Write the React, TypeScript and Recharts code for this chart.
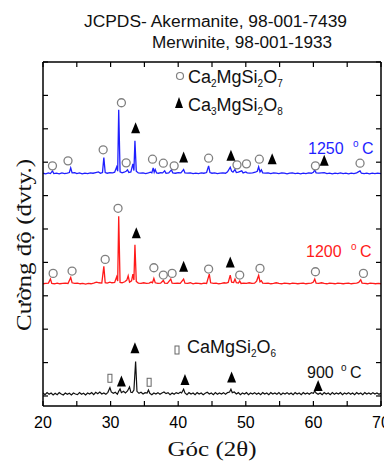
import React from "react"
import { ComposedChart, Line, Scatter, XAxis, YAxis } from "recharts"

// XRD patterns: [2θ (deg), intensity above the pattern's own baseline]
const pattern1250: [number, number][] = [
  [20.0, 2], [20.4, 0], [20.8, 3], [21.1, 1], [21.4, 9], [21.6, 1], [22.0, 2], [22.4, 0], [22.8, 3], [23.2, 1],
  [23.6, 2], [23.9, 4], [24.1, 18], [24.3, 3], [24.7, 4], [25.0, 1], [25.4, 3], [25.8, 0], [26.2, 2], [26.6, 1],
  [27.0, 3], [27.4, 2], [27.8, 4], [28.2, 6], [28.5, 2], [28.8, 4], [29.0, 49], [29.2, 4], [29.5, 2], [29.9, 4],
  [30.3, 3], [30.6, 5], [30.9, 21], [31.05, 8], [31.2, 192], [31.4, 6], [31.7, 3], [32.0, 5], [32.3, 8], [32.5, 12],
  [32.7, 4], [33.0, 6], [33.3, 30], [33.45, 10], [33.6, 99], [33.8, 8], [34.1, 3], [34.4, 2], [34.8, 3], [35.2, 1],
  [35.6, 3], [35.9, 5], [36.1, 3], [36.3, 18], [36.45, 5], [36.6, 13], [36.8, 3], [37.1, 2], [37.4, 4], [37.7, 3],
  [38.0, 9], [38.2, 2], [38.6, 3], [39.0, 12], [39.2, 3], [39.6, 2], [40.0, 4], [40.4, 3], [40.8, 13], [41.0, 3],
  [41.4, 2], [41.8, 3], [42.2, 1], [42.6, 2], [43.0, 1], [43.4, 3], [43.8, 2], [44.2, 4], [44.5, 24], [44.7, 4],
  [45.0, 2], [45.4, 3], [45.8, 1], [46.2, 2], [46.6, 3], [47.0, 2], [47.3, 6], [47.7, 20], [47.9, 8], [48.1, 5],
  [48.4, 13], [48.6, 4], [48.9, 5], [49.4, 9], [49.6, 3], [50.0, 6], [50.2, 3], [50.6, 2], [51.0, 3], [51.4, 5],
  [51.7, 8], [51.9, 21], [52.1, 6], [52.3, 12], [52.5, 3], [52.9, 2], [53.3, 3], [53.7, 1], [54.1, 3], [54.5, 2],
  [54.9, 1], [55.3, 3], [55.7, 2], [56.1, 0], [56.5, 2], [56.9, 3], [57.3, 1], [57.7, 2], [58.1, 0], [58.5, 2],
  [58.9, 1], [59.3, 3], [59.7, 2], [60.0, 5], [60.2, 12], [60.4, 3], [60.8, 2], [61.2, 3], [61.6, 4], [62.0, 1],
  [62.4, 2], [62.8, 0], [63.2, 2], [63.6, 1], [64.0, 3], [64.4, 1], [64.8, 2], [65.2, 0], [65.6, 2], [66.0, 1],
  [66.4, 3], [66.9, 9], [67.1, 2], [67.5, 1], [67.9, 2], [68.3, 0], [68.7, 2], [69.1, 1], [69.5, 2], [70.0, 1],
]

const pattern1200: [number, number][] = [
  [20.0, 1], [20.4, 2], [20.8, 3], [21.1, 15], [21.3, 2], [21.7, 1], [22.1, 3], [22.5, 1], [22.9, 2], [23.3, 3],
  [23.7, 2], [24.1, 20], [24.3, 4], [24.7, 2], [25.1, 3], [25.5, 1], [25.9, 2], [26.3, 0], [26.7, 2], [27.1, 1],
  [27.5, 3], [27.9, 6], [28.3, 4], [28.7, 3], [29.0, 53], [29.2, 4], [29.5, 3], [29.9, 6], [30.2, 4], [30.6, 5],
  [30.9, 22], [31.05, 9], [31.2, 203], [31.4, 5], [31.7, 4], [32.1, 7], [32.4, 12], [32.6, 25], [32.8, 6], [33.1, 10],
  [33.3, 30], [33.45, 12], [33.6, 118], [33.8, 8], [34.1, 3], [34.5, 2], [34.9, 4], [35.3, 2], [35.7, 3], [36.0, 6],
  [36.2, 4], [36.4, 17], [36.6, 4], [37.0, 2], [37.4, 3], [37.8, 11], [38.0, 3], [38.4, 2], [38.9, 15], [39.1, 3],
  [39.5, 2], [39.9, 3], [40.3, 2], [40.8, 15], [41.0, 3], [41.4, 2], [41.8, 4], [42.2, 1], [42.6, 3], [43.0, 2],
  [43.4, 1], [43.8, 3], [44.2, 2], [44.6, 30], [44.8, 4], [45.2, 2], [45.6, 3], [46.0, 1], [46.4, 2], [46.8, 4],
  [47.1, 3], [47.4, 5], [47.7, 27], [47.9, 6], [48.2, 5], [48.4, 15], [48.6, 4], [48.9, 3], [49.1, 9], [49.3, 2],
  [49.7, 3], [50.1, 2], [50.5, 4], [50.9, 2], [51.3, 3], [51.6, 9], [51.9, 26], [52.1, 7], [52.3, 10], [52.5, 3],
  [52.9, 2], [53.3, 3], [53.7, 1], [54.1, 2], [54.5, 4], [54.9, 2], [55.3, 1], [55.7, 3], [56.1, 2], [56.5, 1],
  [56.9, 3], [57.3, 2], [57.7, 1], [58.1, 2], [58.5, 3], [58.9, 1], [59.3, 2], [59.7, 3], [60.0, 6], [60.2, 15],
  [60.4, 3], [60.8, 2], [61.2, 4], [61.6, 2], [62.0, 1], [62.4, 3], [62.8, 2], [63.2, 1], [63.6, 3], [64.0, 2],
  [64.4, 1], [64.8, 2], [65.2, 3], [65.6, 1], [66.0, 2], [66.4, 3], [66.7, 5], [67.0, 13], [67.2, 3], [67.6, 2],
  [68.0, 1], [68.4, 3], [68.8, 2], [69.2, 1], [69.6, 2], [70.0, 1],
]

const pattern900: [number, number][] = [
  [20.0, 3], [20.3, -2], [20.6, 4], [20.9, -1], [21.2, 3], [21.5, -3], [21.8, 2], [22.1, -2], [22.4, 4], [22.7, 0],
  [23.0, -3], [23.3, 3], [23.6, -1], [23.9, 2], [24.2, -3], [24.5, 3], [24.8, 0], [25.1, -2], [25.4, 4], [25.7, -1],
  [26.0, 2], [26.3, -3], [26.6, 3], [26.9, 0], [27.2, 4], [27.5, -2], [27.8, 5], [28.1, 1], [28.4, 6], [28.7, 0],
  [29.0, 3], [29.3, -1], [29.6, 5], [29.9, 19], [30.1, 6], [30.4, 2], [30.7, 5], [31.0, -1], [31.2, 8], [31.4, 15],
  [31.6, 4], [31.9, 8], [32.2, 3], [32.5, 9], [32.8, 21], [33.0, 5], [33.2, 4], [33.45, 12], [33.7, 97], [33.9, 8],
  [34.2, 2], [34.5, 5], [34.8, 0], [35.1, 4], [35.4, 3], [35.6, 12], [35.8, 2], [36.1, -2], [36.4, 3], [36.7, 0],
  [37.0, 4], [37.3, -1], [37.6, 3], [37.9, 6], [38.2, 1], [38.5, 4], [38.8, -2], [39.1, 3], [39.4, -1], [39.7, 4],
  [40.0, 1], [40.3, 5], [40.5, 3], [40.8, 14], [41.0, 3], [41.3, -2], [41.6, 4], [41.9, 0], [42.2, 3], [42.5, -2],
  [42.8, 4], [43.1, 0], [43.4, 3], [43.7, -2], [44.0, 2], [44.3, 5], [44.6, 0], [44.9, 3], [45.2, -2], [45.5, 4],
  [45.8, -1], [46.1, 3], [46.4, 0], [46.7, 4], [47.0, -1], [47.3, 4], [47.6, 6], [47.8, 14], [48.0, 4], [48.3, 6],
  [48.6, 0], [48.9, 4], [49.2, -2], [49.5, 3], [49.8, 0], [50.1, 4], [50.4, -2], [50.7, 3], [51.0, 0], [51.3, 4],
  [51.6, -1], [51.9, 3], [52.2, -2], [52.5, 4], [52.8, 0], [53.1, 3], [53.4, -2], [53.7, 4], [54.0, 0], [54.3, 3],
  [54.6, -1], [54.9, 4], [55.2, -2], [55.5, 3], [55.8, 0], [56.1, 4], [56.4, -1], [56.7, 3], [57.0, -2], [57.3, 4],
  [57.6, 0], [57.9, 3], [58.2, -2], [58.5, 4], [58.8, 0], [59.1, 3], [59.4, -1], [59.7, 4], [60.0, 2], [60.2, 9],
  [60.4, 3], [60.7, -1], [61.0, 3], [61.3, -2], [61.6, 4], [61.9, 0], [62.2, 3], [62.5, -2], [62.8, 4], [63.1, -1],
  [63.4, 3], [63.7, 0], [64.0, 4], [64.3, -2], [64.6, 3], [64.9, 0], [65.2, 4], [65.5, -1], [65.8, 3], [66.1, -2],
  [66.4, 4], [66.7, 0], [67.0, 3], [67.3, -2], [67.6, 4], [67.9, 0], [68.2, 3], [68.5, -1], [68.8, 4], [69.1, 0],
  [69.4, 3], [69.7, -1], [70.0, 2],
]

// vertical stacking of the three patterns
const offset1250 = 665
const offset1200 = 335
const offset900 = 6

// phase markers: [2θ, height above baseline]
const akermanite1250: [number, number][] = [
  [21.4, 24], [23.7, 39], [28.9, 72], [31.6, 213], [32.3, 33], [36.2, 44], [37.8, 32],
  [39.4, 24], [44.5, 47], [48.7, 27], [50.1, 30], [52.0, 44], [60.3, 24], [66.9, 32],
]
const merwinite1250: [number, number][] = [[33.7, 137], [40.8, 49], [47.8, 54], [53.9, 44], [61.6, 39]]

const akermanite1200: [number, number][] = [
  [21.5, 32], [24.3, 39], [29.2, 74], [31.1, 227], [36.4, 49], [37.8, 27], [39.1, 32],
  [44.5, 45], [49.1, 27], [52.1, 47], [60.3, 37], [67.4, 32],
]
const merwinite1200: [number, number][] = [[33.8, 152], [40.8, 52], [47.7, 65]]

const diopside900: [number, number][] = [[29.9, 47], [35.7, 35]]
const merwinite900: [number, number][] = [[31.6, 37], [33.6, 137], [41.0, 42], [47.9, 49], [60.7, 24]]

const xTicks = [20, 30, 40, 50, 60, 70]
const xMinorTicks = [20, 25, 30, 35, 40, 45, 50, 55, 60, 65, 70]
const yTicks = [0, 100, 200, 300, 400, 500, 600, 700, 800, 900, 1000]

const rows = (pts: [number, number][], off: number) => pts.map(([x, y]) => ({ x, y: y + off }))

const OpenCircle = (p: any) => (
  <circle cx={p.cx} cy={p.cy} r={4} fill="#fff" stroke="#808080" strokeWidth={1.3} />
)
const Triangle = (p: any) => (
  <path d={`M${p.cx},${p.cy - 6} L${p.cx + 4.5},${p.cy + 5} L${p.cx - 4.5},${p.cy + 5} Z`} fill="#000" />
)
const OpenBox = (p: any) => (
  <rect x={p.cx - 2} y={p.cy - 4} width={4} height={8} fill="#fff" stroke="#666" strokeWidth={1} />
)
// frame axes draw tick marks only
const NoLabel = () => <g />

const frame = { stroke: "#000", strokeWidth: 1.5 }
const tickLine = { stroke: "#000", strokeWidth: 1.2 }
const sans = "'Liberation Sans', Arial, sans-serif"
const serif = "'Liberation Serif', 'Times New Roman', serif"

export default function App() {
  return (
    <div style={{ position: "relative", width: 384, height: 455, fontFamily: sans }}>
      <ComposedChart width={384} height={455} margin={{ top: 54, right: 11, bottom: 27, left: 35 }}>
        <XAxis xAxisId="fb" type="number" dataKey="x" domain={[20, 70]} allowDataOverflow ticks={xMinorTicks}
          orientation="bottom" mirror height={1} tick={NoLabel} tickSize={5} axisLine={frame} tickLine={tickLine} />
        <XAxis xAxisId="ft" type="number" dataKey="x" domain={[20, 70]} allowDataOverflow ticks={xMinorTicks}
          orientation="top" mirror height={1} tick={NoLabel} tickSize={5} axisLine={frame} tickLine={tickLine} />
        <XAxis type="number" dataKey="x" domain={[20, 70]} allowDataOverflow ticks={xTicks} height={30}
          axisLine={false} tickLine={false} tickSize={0} tickMargin={11}
          tick={{ fontSize: 16, fill: "#000", fontFamily: sans }} />
        <YAxis type="number" domain={[-30, 1000]} allowDataOverflow ticks={yTicks} mirror width={1}
          tick={NoLabel} tickSize={5} axisLine={frame} tickLine={tickLine} />
        <YAxis yAxisId="fr" orientation="right" type="number" domain={[-30, 1000]} allowDataOverflow ticks={yTicks}
          mirror width={1} tick={NoLabel} tickSize={5} axisLine={frame} tickLine={tickLine} />

        <Line data={rows(pattern1250, offset1250)} dataKey="y" stroke="#1f1fff" strokeWidth={1.3} dot={false}
          activeDot={false} isAnimationActive={false} />
        <Line data={rows(pattern1200, offset1200)} dataKey="y" stroke="#ff1a1a" strokeWidth={1.3} dot={false}
          activeDot={false} isAnimationActive={false} />
        <Line data={rows(pattern900, offset900)} dataKey="y" stroke="#111" strokeWidth={1.2} dot={false}
          activeDot={false} isAnimationActive={false} />

        <Scatter data={rows(akermanite1250, offset1250)} dataKey="y" shape={OpenCircle} isAnimationActive={false} />
        <Scatter data={rows(merwinite1250, offset1250)} dataKey="y" shape={Triangle} isAnimationActive={false} />
        <Scatter data={rows(akermanite1200, offset1200)} dataKey="y" shape={OpenCircle} isAnimationActive={false} />
        <Scatter data={rows(merwinite1200, offset1200)} dataKey="y" shape={Triangle} isAnimationActive={false} />
        <Scatter data={rows(diopside900, offset900)} dataKey="y" shape={OpenBox} isAnimationActive={false} />
        <Scatter data={rows(merwinite900, offset900)} dataKey="y" shape={Triangle} isAnimationActive={false} />
      </ComposedChart>

      <svg width={384} height={455} style={{ position: "absolute", left: 0, top: 0, pointerEvents: "none" }}>
        <g transform="translate(-8,-8)" fontFamily={sans} fill="#111">
          <text x={84} y={27} fontSize={16} textLength={263} lengthAdjust="spacingAndGlyphs">
            JCPDS- Akermanite, 98-001-7439
          </text>
          <text x={152} y={48} fontSize={16} textLength={180} lengthAdjust="spacingAndGlyphs">
            Merwinite, 98-001-1933
          </text>

          <circle cx={180} cy={76} r={3.5} fill="#fff" stroke="#808080" strokeWidth={1.2} />
          <text x={188} y={83} fontSize={18}>
            Ca<tspan fontSize={10} dy={4}>2</tspan><tspan dy={-4}>MgSi</tspan><tspan fontSize={10} dy={4}>2</tspan>
            <tspan dy={-4}>O</tspan><tspan fontSize={10} dy={4}>7</tspan>
          </text>
          <path d="M179,97 L183,108 L175,108 Z" fill="#000" />
          <text x={188} y={111} fontSize={18}>
            Ca<tspan fontSize={10} dy={4}>3</tspan><tspan dy={-4}>MgSi</tspan><tspan fontSize={10} dy={4}>2</tspan>
            <tspan dy={-4}>O</tspan><tspan fontSize={10} dy={4}>8</tspan>
          </text>

          <rect x={175} y={346} width={4} height={8} fill="#fff" stroke="#666" />
          <text x={187} y={353} fontSize={18}>
            CaMgSi<tspan fontSize={10} dy={4}>2</tspan><tspan dy={-4}>O</tspan><tspan fontSize={10} dy={4}>6</tspan>
          </text>

          <text x={308} y={154} fontSize={16} fill="#1f1fff">
            1250<tspan x={353} dy={-7} fontSize={10}>o</tspan><tspan x={362} dy={7}>C</tspan>
          </text>
          <text x={306} y={257} fontSize={16} fill="#ff1a1a">
            1200<tspan x={351} dy={-7} fontSize={10}>o</tspan><tspan x={360} dy={7}>C</tspan>
          </text>
          <text x={307} y={378} fontSize={16} fill="#111">
            900<tspan x={341} dy={-7} fontSize={10}>o</tspan><tspan x={350} dy={7}>C</tspan>
          </text>

          <text transform="translate(31,245) rotate(-90)" textAnchor="middle" fontFamily={serif} fontSize={21}
            textLength={172} lengthAdjust="spacingAndGlyphs">
            Cường độ (đvty.)
          </text>
          <text x={212} y={456} textAnchor="middle" fontFamily={serif} fontSize={20} textLength={89}
            lengthAdjust="spacingAndGlyphs">
            Góc (2θ)
          </text>
        </g>
      </svg>
    </div>
  )
}
